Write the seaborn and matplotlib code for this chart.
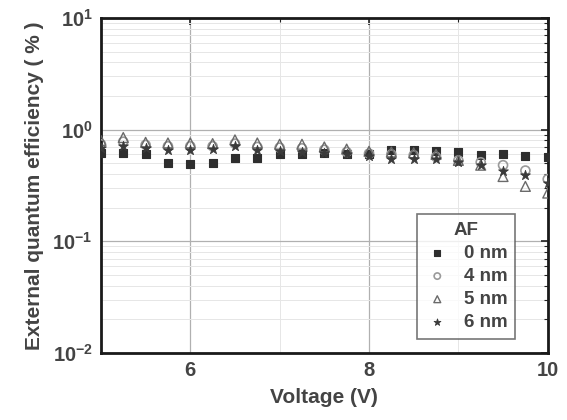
import numpy as np
import pandas as pd
import matplotlib
matplotlib.use("Agg")
import matplotlib.pyplot as plt
import seaborn as sns
from matplotlib.ticker import LogLocator, NullFormatter, MultipleLocator

voltage = [5.0, 5.25, 5.5, 5.75, 6.0, 6.25, 6.5, 6.75, 7.0, 7.25, 7.5,
           7.75, 8.0, 8.25, 8.5, 8.75, 9.0, 9.25, 9.5, 9.75, 10.0]
eqe_0nm = [0.62, 0.62, 0.60, 0.50, 0.49, 0.50, 0.56, 0.56, 0.60, 0.61, 0.62,
           0.61, 0.60, 0.66, 0.66, 0.65, 0.63, 0.59, 0.60, 0.58, 0.57]
eqe_4nm = [0.74, 0.78, 0.73, 0.71, 0.71, 0.71, 0.75, 0.70, 0.69, 0.68, 0.66,
           0.63, 0.61, 0.60, 0.59, 0.57, 0.53, 0.51, 0.48, 0.43, 0.36]
eqe_5nm = [0.80, 0.85, 0.77, 0.76, 0.76, 0.75, 0.81, 0.76, 0.74, 0.74, 0.70,
           0.67, 0.64, 0.63, 0.62, 0.60, 0.53, 0.48, 0.38, 0.31, 0.27]
eqe_6nm = [0.68, 0.72, 0.68, 0.66, 0.66, 0.67, 0.71, 0.66, 0.64, 0.63, 0.62,
           0.60, 0.58, 0.55, 0.54, 0.54, 0.51, 0.48, 0.43, 0.39, 0.33]
labels = ["0 nm", "4 nm", "5 nm", "6 nm"]

sns.set_theme(style="white")
plt.rcParams['font.family'] = ['Liberation Sans', 'DejaVu Sans']
plt.rcParams['font.weight'] = 'bold'
plt.rcParams['mathtext.default'] = 'bf'

fig = plt.figure(figsize=(5.67, 4.2), dpi=100)
ax = fig.add_axes([0.178, 0.160, 0.788, 0.797])

styles = [
    dict(marker="s", facecolor="#2e2e2e", edgecolor="#2e2e2e", s=36, lw=0.8),
    dict(marker="o", facecolor="none", edgecolor="#9a9a9a", s=42, lw=1.2),
    dict(marker="^", facecolor="none", edgecolor="#6a6a6a", s=50, lw=1.0),
    dict(marker="*", facecolor="#3a3a3a", edgecolor="#3a3a3a", s=55, lw=0.6),
]
series = [eqe_0nm, eqe_4nm, eqe_5nm, eqe_6nm]
for vals, lab, st in zip(series, labels, styles):
    df = pd.DataFrame({"V": voltage, "EQE": vals})
    sns.scatterplot(data=df, x="V", y="EQE", ax=ax, marker=st["marker"],
                    facecolor=st["facecolor"], edgecolor=st["edgecolor"],
                    s=st["s"], linewidth=st["lw"], label=lab, zorder=3)

ax.set_yscale("log")
ax.set_xlim(5, 10)
ax.set_ylim(1e-2, 1e1)
ax.set_xticks([6, 8, 10])
ax.xaxis.set_minor_locator(MultipleLocator(1))
ax.yaxis.set_major_locator(LogLocator(base=10, numticks=10))
ax.yaxis.set_minor_locator(LogLocator(base=10, subs=np.arange(2, 10), numticks=10))
ax.yaxis.set_minor_formatter(NullFormatter())

ax.grid(True, which="major", color="#b0b0b0", lw=0.9)
ax.grid(True, which="minor", color="#e6e6e6", lw=0.7)
ax.set_axisbelow(True)

ax.tick_params(which="both", direction="in", top=True, right=True, color="#222222")
ax.tick_params(which="major", length=5, width=1.2, labelsize=14.5, labelcolor="#444444", pad=6)
ax.tick_params(which="minor", length=3, width=0.8)
for lab in ax.get_xticklabels() + ax.get_yticklabels():
    lab.set_fontweight("bold")
for sp in ax.spines.values():
    sp.set_color("#1a1a1a")
    sp.set_linewidth(2.0)

ax.set_xlabel("Voltage (V)", fontsize=15, fontweight="bold", color="#444444", labelpad=6)
ax.set_ylabel("External quantum efficiency ( % )", fontsize=15, fontweight="bold",
              color="#444444", labelpad=6)

leg = ax.legend(title="AF", loc="lower right", bbox_to_anchor=(0.926, 0.042),
                borderaxespad=0.0,
                fontsize=13.5, title_fontsize=13.5, frameon=True, fancybox=False,
                edgecolor="#555555", handletextpad=0.7, borderpad=0.4,
                labelspacing=0.32, handlelength=1.4, markerscale=0.7)
leg.get_frame().set_linewidth(1.2)
leg.get_title().set_fontweight("bold")
leg.get_title().set_color("#444444")
for t in leg.get_texts():
    t.set_color("#444444")

fig.savefig("out.png", dpi=100, facecolor="white")
